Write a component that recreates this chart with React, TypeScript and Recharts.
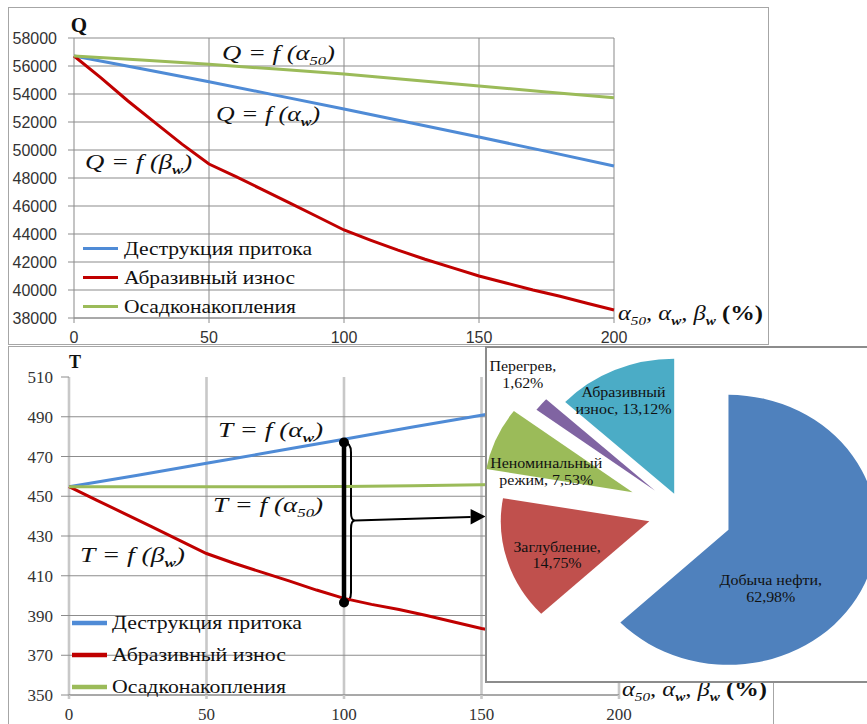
import React from 'react';
import {
  LineChart, Line, XAxis, YAxis, CartesianGrid, Legend, ReferenceDot, ReferenceLine,
  ReferenceArea, PieChart, Pie, Cell,
} from 'recharts';

// ---------------- data ----------------
const X_TICKS = [0, 50, 100, 150, 200];
const Q_TICKS = [38000, 40000, 42000, 44000, 46000, 48000, 50000, 52000, 54000, 56000, 58000];
const T_TICKS = [350, 370, 390, 410, 430, 450, 470, 490, 510];
const T_GRID = [350, 370, 390, 410, 430, 450, 470, 490];

const SERIES_NAMES = ['Деструкция притока', 'Абразивный износ', 'Осадконакопления'];

const X_COARSE = [0, 25, 50, 75, 100, 125, 150, 175, 200];
const X_FINE = [0, 10, 20, 30, 40, 50, 60, 70, 80, 90, 100, 110, 120, 130, 140, 150, 160, 170, 180, 190, 200];

const Q_DESTRUCTION = [56714, 55800, 54880, 53900, 52928, 51930, 50928, 49900, 48857];
const Q_ABRASION = [56714, 55150, 53500, 51950, 50420, 49000, 48100, 47150, 46200, 45250, 44286,
  43550, 42850, 42200, 41600, 41000, 40500, 40000, 39550, 39050, 38571];
const Q_SEDIMENT = [56714, 56420, 56121, 55780, 55428, 55000, 54571, 54150, 53736];

const T_DESTRUCTION = [454.8, 460.6, 466.6, 472.6, 478.7, 484.8, 490.8, 496.8, 502.8];
const T_ABRASION = [454.8, 448.1, 441.4, 434.7, 427.9, 421.2, 416.3, 411.8, 407.4, 402.8, 398.6,
  395.6, 393, 390, 386.7, 383.5, 381, 378.5, 376, 373.5, 371];
const T_SEDIMENT = [454.8, 454.8, 454.8, 454.8, 454.9, 455.3, 455.8, 456.5, 457.3];

// bracket at alpha = 100 between the two T curves
const BRACE_X = 100;
const BRACE_TOP = 477;
const BRACE_BOTTOM = 396.5;
const ARROW_END_X = 151.5;

const PIE_NAMES = ['Добыча нефти', 'Заглубление', 'Неноминальный режим', 'Перегрев', 'Абразивный износ'];
const PIE_SHARES = [62.98, 14.75, 7.53, 1.62, 13.12];

// ---------------- styles / annotation placement ----------------
const LINE_COLORS = ['#4f8bd6', '#c00000', '#9bbb59'];
const PIE_COLORS = ['#4f81bd', '#c0504d', '#9bbb59', '#8064a2', '#4bacc6'];
const PIE_EXPLODE = [45, 32, 50, 33, 20];
const PIE_LABEL_POS = [
  { r: 0.52, da: -33.4, split: false },
  { r: 0.67, da: 5.3, split: false },
  { r: 0.6, da: 8.85, split: true },
  { r: 1.24, da: -4.2, split: false },
  { r: 0.77, da: 2.7, split: true },
];
const SERIF = "'Liberation Serif', 'Times New Roman', serif";
const SANS = "'Liberation Sans', Arial, sans-serif";
const RAD = Math.PI / 180;

const Q_FORMULAS = [
  { ax: 54.8, ay: 56429, lead: 'Q = f (α', sub: '50', bold: false, w: 113 },
  { ax: 52.6, ay: 52071, lead: 'Q = f (α', sub: 'w', bold: true, w: 104 },
  { ax: 4.1, ay: 48643, lead: 'Q = f (β', sub: 'w', bold: true, w: 107 },
];
const T_FORMULAS = [
  { ax: 54.2, ay: 479.8, lead: 'T = f (α', sub: 'w', bold: true, w: 105 },
  { ax: 52.4, ay: 442, lead: 'T = f (α', sub: '50', bold: false, w: 110 },
  { ax: 4, ay: 416.8, lead: 'T = f (β', sub: 'w', bold: true, w: 105 },
];

type Pt = { x: number; v: number };
const zip = (xs: number[], ys: number[]): Pt[] => xs.map((x, i) => ({ x, v: ys[i] }));

function Formula({ x, y, lead, sub, bold, w }: any) {
  return (
    <text x={x} y={y} fontFamily={SERIF} fontStyle="italic" fontSize={21} fill="#111"
      textLength={w} lengthAdjust="spacingAndGlyphs">
      <tspan>{lead}</tspan>
      <tspan fontSize={13} dy={5} fontWeight={bold ? 'bold' : 'normal'}>{sub}</tspan>
      <tspan dy={-5}>{')'}</tspan>
    </text>
  );
}

function AxisTitle({ x, y }: any) {
  return (
    <text x={x} y={y} fontFamily={SERIF} fontStyle="italic" fontSize={21} fill="#111"
      textLength={145} lengthAdjust="spacingAndGlyphs">
      <tspan>α</tspan>
      <tspan fontSize={13} dy={5}>50</tspan>
      <tspan dy={-5}>, α</tspan>
      <tspan fontSize={13} dy={5} fontWeight="bold">w</tspan>
      <tspan dy={-5}>, β</tspan>
      <tspan fontSize={13} dy={5} fontWeight="bold">w</tspan>
      <tspan dy={-5} fontStyle="normal" fontWeight="bold"> (%)</tspan>
    </text>
  );
}

const makeLegend = (rowH: number, lineLen: number, lineW: number, gap: number, widths: number[]) =>
  (props: any) => {
    const payload = [...(props.payload || [])].sort(
      (a: any, b: any) => SERIES_NAMES.indexOf(a.value) - SERIES_NAMES.indexOf(b.value));
    return (
      <svg width={320} height={rowH * 3 + 6} style={{ display: 'block', overflow: 'visible' }}>
        {payload.map((p: any, i: number) => {
          const cy = rowH * i + rowH / 2;
          const idx = SERIES_NAMES.indexOf(p.value);
          return (
            <g key={i}>
              <line x1={0} x2={lineLen} y1={cy} y2={cy} stroke={p.color} strokeWidth={lineW} />
              <text x={lineLen + gap} y={cy + 6} fontFamily={SERIF} fontSize={19} fill="#111"
                textLength={widths[idx]} lengthAdjust="spacingAndGlyphs">{p.value}</text>
            </g>
          );
        })}
      </svg>
    );
  };

const TopLegend = makeLegend(29, 35, 3, 6, [188, 171, 172]);
const BottomLegend = makeLegend(32, 35, 4.5, 5, [190, 174, 174]);

function BraceShape(props: any) {
  const { x, y, width, height } = props;
  const top = y;
  const bot = y + height;
  const mid = (top + bot) / 2 - 2;
  const bx = x + 7;
  const tip = x + 11;
  const end = x + width;
  const d = `M ${x} ${top} Q ${bx} ${top} ${bx} ${top + 10} L ${bx} ${mid - 8} Q ${bx} ${mid} ${tip} ${mid}`
    + ` Q ${bx} ${mid} ${bx} ${mid + 8} L ${bx} ${bot - 10} Q ${bx} ${bot} ${x} ${bot}`;
  return (
    <g>
      <path d={d} fill="none" stroke="#000" strokeWidth={2} />
      <line x1={tip} y1={mid} x2={end - 15} y2={mid - 3.5} stroke="#000" strokeWidth={2} />
      <polygon points={`${end},${mid - 4} ${end - 15},${mid - 11.5} ${end - 15},${mid + 4}`} fill="#000" />
    </g>
  );
}

// ---------------- pie geometry helpers ----------------
const PIE_TOTAL = PIE_SHARES.reduce((a, b) => a + b, 0);
const PIE_MID = PIE_SHARES.map((v, i) => {
  const before = PIE_SHARES.slice(0, i).reduce((a, b) => a + b, 0);
  return 90 - ((before + v / 2) / PIE_TOTAL) * 360;
});
const PIE_DATA = PIE_NAMES.map((name, i) => ({ name, value: PIE_SHARES[i] }));
const fmt = (v: number) => v.toFixed(2).replace('.', ',') + '%';
const pieLines = (k: number): [string, string] => {
  const name = PIE_NAMES[k];
  if (PIE_LABEL_POS[k].split) {
    const sp = name.indexOf(' ');
    return [name.slice(0, sp), `${name.slice(sp + 1)}, ${fmt(PIE_SHARES[k])}`];
  }
  return [`${name},`, fmt(PIE_SHARES[k])];
};

const makePieLabel = (k: number) => (p: any) => {
  if (p.index !== k) return null;
  const st = PIE_LABEL_POS[k];
  const a = (p.midAngle + st.da) * RAD;
  const r = p.outerRadius * st.r;
  const x = p.cx + r * Math.cos(a);
  const y = p.cy - r * Math.sin(a);
  const [l1, l2] = pieLines(k);
  return (
    <text x={x} y={y} textAnchor="middle" fontFamily={SERIF} fontSize={14.5} fill="#111">
      <tspan x={x} dy={-3.4}>{l1}</tspan>
      <tspan x={x} dy={16.6}>{l2}</tspan>
    </text>
  );
};

const PIE_CX = 187.3;
const PIE_CY = 164;
const PIE_R = 135;

export default function App() {
  const qRows = [zip(X_COARSE, Q_DESTRUCTION), zip(X_FINE, Q_ABRASION), zip(X_COARSE, Q_SEDIMENT)];
  const tRows = [zip(X_COARSE, T_DESTRUCTION), zip(X_FINE, T_ABRASION), zip(X_COARSE, T_SEDIMENT)];

  return (
    <div style={{ position: 'absolute', left: 0, top: 0, width: 867, height: 724, overflow: 'hidden', background: '#fff' }}>
      {/* top frame */}
      <div style={{ position: 'absolute', left: 8, top: 7, width: 761, height: 338, boxSizing: 'border-box', border: '1.5px solid #a6a6a6' }} />
      <div style={{ position: 'absolute', left: 9, top: 8 }}>
        <LineChart width={760} height={337} margin={{ top: 30, right: 155, bottom: 0, left: 0 }}>
          <CartesianGrid horizontal={false} stroke="#c4c4c4" strokeWidth={2} />
          <CartesianGrid vertical={false} stroke="#8c8c8c" strokeWidth={1.2} />
          <XAxis type="number" dataKey="x" domain={[0, 200]} ticks={X_TICKS} height={27}
            tickSize={5} tickMargin={9} axisLine={{ stroke: '#8c8c8c' }} tickLine={{ stroke: '#8c8c8c' }}
            tick={{ fontSize: 16, fill: '#333', fontFamily: SANS }} />
          <YAxis type="number" domain={[38000, 58000]} ticks={Q_TICKS} width={65} tickSize={6}
            tickMargin={11} axisLine={false} tickLine={{ stroke: '#8c8c8c' }}
            tick={{ fontSize: 16, fill: '#333', fontFamily: SANS }} interval={0} />
          {qRows.map((rows, i) => (
            <Line key={i} data={rows} dataKey="v" name={SERIES_NAMES[i]} type="linear"
              stroke={LINE_COLORS[i]} strokeWidth={3} dot={false} isAnimationActive={false} />
          ))}
          <Legend layout="vertical" align="center" verticalAlign="middle" content={TopLegend}
            wrapperStyle={{ left: 74, top: 226, width: 320, height: 93 }} />
          {Q_FORMULAS.map((f, i) => (
            <ReferenceDot key={i} x={f.ax} y={f.ay} r={0} ifOverflow="visible"
              shape={(p: any) => <Formula {...f} x={p.cx} y={p.cy} />} />
          ))}
          <ReferenceDot x={0} y={58000} r={0} ifOverflow="visible"
            shape={(p: any) => (
              <text x={p.cx + 5} y={p.cy - 6} textAnchor="middle" fontFamily={SERIF} fontWeight="bold" fontSize={21} fill="#111">Q</text>
            )} />
          <ReferenceDot x={200} y={38000} r={0} ifOverflow="visible"
            shape={(p: any) => <AxisTitle x={p.cx + 4} y={p.cy + 2} />} />
        </LineChart>
      </div>

      {/* bottom frame */}
      <div style={{ position: 'absolute', left: 8, top: 346, width: 766, height: 420, boxSizing: 'border-box', border: '1.5px solid #a6a6a6' }} />
      <div style={{ position: 'absolute', left: 9, top: 347 }}>
        <LineChart width={764} height={377} margin={{ top: 30, right: 154, bottom: 0, left: 0 }}>
          <CartesianGrid horizontal={false} stroke="#c8c8c8" strokeWidth={2.6} />
          <CartesianGrid vertical={false} stroke="#8c8c8c" strokeWidth={1.2} horizontalValues={T_GRID} />
          <XAxis type="number" dataKey="x" domain={[0, 200]} ticks={X_TICKS} height={29}
            tickSize={4} tickMargin={9} axisLine={{ stroke: '#8c8c8c' }}
            tickLine={{ stroke: '#c8c8c8', strokeWidth: 2.6 }}
            tick={{ fontSize: 17, fill: '#333', fontFamily: SERIF }} />
          <YAxis type="number" domain={[350, 510]} ticks={T_TICKS} width={60} tickSize={8}
            tickMargin={8} axisLine={false} tickLine={{ stroke: '#8c8c8c' }}
            tick={{ fontSize: 17, fill: '#333', fontFamily: SERIF }} interval={0} />
          {tRows.map((rows, i) => (
            <Line key={i} data={rows} dataKey="v" name={SERIES_NAMES[i]} type="linear"
              stroke={LINE_COLORS[i]} strokeWidth={3} dot={false} isAnimationActive={false} />
          ))}
          <Legend layout="vertical" align="center" verticalAlign="middle" content={BottomLegend}
            wrapperStyle={{ left: 63, top: 260, width: 320, height: 102 }} />
          {T_FORMULAS.map((f, i) => (
            <ReferenceDot key={i} x={f.ax} y={f.ay} r={0} ifOverflow="visible"
              shape={(p: any) => <Formula {...f} x={p.cx} y={p.cy} />} />
          ))}
          <ReferenceArea x1={BRACE_X} x2={ARROW_END_X} y1={BRACE_BOTTOM} y2={BRACE_TOP}
            ifOverflow="visible" shape={(p: any) => <BraceShape {...p} />} />
          <ReferenceLine segment={[{ x: BRACE_X, y: BRACE_TOP }, { x: BRACE_X, y: BRACE_BOTTOM }]}
            stroke="#000" strokeWidth={4.5} ifOverflow="visible" />
          <ReferenceDot x={BRACE_X} y={BRACE_TOP} r={5} fill="#000" stroke="none" ifOverflow="visible" />
          <ReferenceDot x={BRACE_X} y={BRACE_BOTTOM} r={5} fill="#000" stroke="none" ifOverflow="visible" />
          <ReferenceDot x={0} y={510} r={0} ifOverflow="visible"
            shape={(p: any) => (
              <text x={p.cx + 6} y={p.cy - 9} textAnchor="middle" fontFamily={SERIF} fontWeight="bold" fontSize={18} fill="#111">T</text>
            )} />
          <ReferenceDot x={200} y={350} r={0} ifOverflow="visible"
            shape={(p: any) => <AxisTitle x={p.cx + 3} y={p.cy + 1} />} />
        </LineChart>
      </div>

      {/* pie inset */}
      <div style={{ position: 'absolute', left: 485, top: 346, width: 420, height: 337, boxSizing: 'border-box', border: '2px solid #8c8c8c', background: '#fff' }} />
      <div style={{ position: 'absolute', left: 477, top: 348, transform: 'scaleX(1.1)', transformOrigin: '0 0' }}>
        <PieChart width={370} height={333} margin={{ top: 0, right: 0, bottom: 0, left: 0 }}>
          {PIE_SHARES.map((_, k) => (
            <Pie key={k} data={PIE_DATA} dataKey="value" nameKey="name"
              cx={PIE_CX + PIE_EXPLODE[k] * Math.cos(PIE_MID[k] * RAD)}
              cy={PIE_CY - PIE_EXPLODE[k] * Math.sin(PIE_MID[k] * RAD)}
              outerRadius={PIE_R} innerRadius={0} startAngle={90} endAngle={-270}
              stroke="none" isAnimationActive={false} label={makePieLabel(k)} labelLine={false}>
              {PIE_DATA.map((_, j) => (
                <Cell key={j} fill={j === k ? PIE_COLORS[j] : 'none'} stroke="none" />
              ))}
            </Pie>
          ))}
        </PieChart>
      </div>
    </div>
  );
}
